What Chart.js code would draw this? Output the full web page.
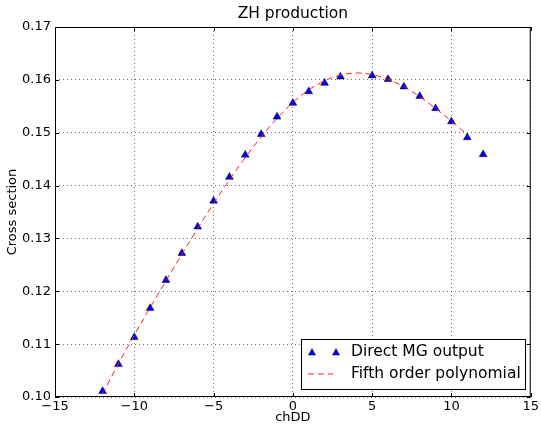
<!DOCTYPE html>
<html>
<head>
<meta charset="utf-8">
<script src="https://cdn.jsdelivr.net/npm/chart.js@4/dist/chart.umd.min.js"></script>
<style>
  html, body { margin: 0; padding: 0; background: #fff; }
  #wrap { width: 541px; height: 425px; }
</style>
</head>
<body>
<div id="wrap"><canvas id="zhChart" width="541" height="425"></canvas></div>
<script>
// values
const mgX = [-12, -11, -10, -9, -8, -7, -6, -5, -4, -3, -2, -1, 0, 1, 2, 3, 5, 6, 7, 8, 9, 10, 11, 12];
const mgY = [0.1011, 0.1062, 0.1113, 0.1168, 0.1221, 0.1272, 0.1322, 0.1371, 0.1416, 0.1458, 0.1497, 0.1530,
             0.1556, 0.1578, 0.1594, 0.1606, 0.1608, 0.1601, 0.1587, 0.1569, 0.1546, 0.1521, 0.1491, 0.1459];

const fitX = [-12, -11, -10, -9, -8, -7, -6, -5, -4, -3, -2, -1, 0, 1, 2, 3, 4, 5, 6, 7, 8, 9, 10, 11];
const fitY = [0.1006, 0.1063, 0.1117, 0.1169, 0.1220, 0.1270, 0.1319, 0.1366, 0.1411, 0.1453, 0.1492, 0.1527,
              0.1557, 0.1581, 0.1598, 0.1609, 0.1613, 0.1610, 0.1601, 0.1587, 0.1568, 0.1546, 0.1522, 0.1496];

const xTicks = [-15, -10, -5, 0, 5, 10, 15];
const yTicks = [0.10, 0.11, 0.12, 0.13, 0.14, 0.15, 0.16, 0.17];

const FONT = 'DejaVu Sans, Liberation Sans, sans-serif';

// frame, inward ticks, title and legend box drawn on top
const framePlugin = {
    id: 'frame',
    afterDraw(chart) {
        const { ctx, chartArea: a, scales } = chart;
        ctx.save();
        ctx.strokeStyle = '#000';
        ctx.lineWidth = 1;
        ctx.strokeRect(a.left + 0.5, a.top + 0.5, a.right - a.left - 1, a.bottom - a.top - 1);
        // inward ticks on all four sides
        ctx.beginPath();
        xTicks.forEach(v => {
            const px = Math.round(scales.x.getPixelForValue(v)) + 0.5;
            ctx.moveTo(px, a.bottom); ctx.lineTo(px, a.bottom - 4);
            ctx.moveTo(px, a.top); ctx.lineTo(px, a.top + 4);
        });
        yTicks.forEach(v => {
            const py = Math.round(scales.y.getPixelForValue(v)) + 0.5;
            ctx.moveTo(a.left, py); ctx.lineTo(a.left + 4, py);
            ctx.moveTo(a.right, py); ctx.lineTo(a.right - 4, py);
        });
        ctx.stroke();

        // title
        ctx.fillStyle = '#000';
        ctx.font = '15.5px ' + FONT;
        ctx.textAlign = 'center';
        ctx.textBaseline = 'middle';
        ctx.fillText('ZH production', (a.left + a.right) / 2, 14);

        // legend
        const bx = 301.5, by = 339.5, bw = 224, bh = 50;
        ctx.fillStyle = '#fff';
        ctx.fillRect(bx, by, bw, bh);
        ctx.strokeRect(bx, by, bw, bh);
        const ds0 = chart.data.datasets[0];
        [312, 336].forEach(mx => {
            ctx.beginPath();
            ctx.moveTo(mx, 348.5); ctx.lineTo(mx + 3.5, 355); ctx.lineTo(mx - 3.5, 355); ctx.closePath();
            ctx.fillStyle = ds0.backgroundColor;
            ctx.fill();
            ctx.lineWidth = 0.5;
            ctx.strokeStyle = '#000';
            ctx.stroke();
        });
        const ds1 = chart.data.datasets[1];
        ctx.beginPath();
        ctx.setLineDash([6, 4]);
        ctx.strokeStyle = ds1.borderColor;
        ctx.lineWidth = 1;
        ctx.moveTo(308, 374); ctx.lineTo(333, 374);
        ctx.stroke();
        ctx.setLineDash([]);
        ctx.fillStyle = '#000';
        ctx.font = '15.5px ' + FONT;
        ctx.textAlign = 'left';
        ctx.fillText(ds0.label, 351, 352);
        ctx.fillText(ds1.label, 351, 374);
        ctx.restore();
    }
};

const ctx = document.getElementById('zhChart').getContext('2d');
const zhChart = new Chart(ctx, {
    type: 'scatter',
    data: {
        datasets: [
            {
                label: 'Direct MG output',
                data: mgX.map((x, i) => ({ x: x, y: mgY[i] })),
                pointStyle: 'triangle',
                pointRadius: 4.5,
                backgroundColor: '#0000ff',
                borderColor: '#000',
                borderWidth: 0.5,
                order: 1
            },
            {
                label: 'Fifth order polynomial',
                type: 'line',
                data: fitX.map((x, i) => ({ x: x, y: fitY[i] })),
                showLine: true,
                borderColor: 'rgba(255, 20, 20, 0.95)',
                borderWidth: 1,
                borderDash: [6, 4],
                pointRadius: 0,
                tension: 0.4,
                fill: false,
                order: 0
            }
        ]
    },
    options: {
        responsive: false,
        animation: false,
        layout: { padding: { top: 27, right: 9, left: 0, bottom: 0 } },
        plugins: {
            legend: { display: false },
            title: { display: false },
            tooltip: { enabled: false }
        },
        scales: {
            x: {
                type: 'linear',
                min: -15,
                max: 15,
                afterFit(scale) { scale.height = 28; },
                afterBuildTicks(scale) { scale.ticks = xTicks.map(v => ({ value: v })); },
                ticks: {
                    color: '#000',
                    padding: 2,
                    font: { family: FONT, size: 13 },
                    maxRotation: 0,
                    callback: v => String(v).replace('-', '\u2212')
                },
                grid: {
                    color: 'rgba(0,0,0,0.55)',
                    lineWidth: 1,
                    drawTicks: false
                },
                border: { display: false, dash: [1, 3] },
                title: {
                    display: true,
                    text: 'chDD',
                    color: '#000',
                    font: { family: FONT, size: 13 },
                    padding: 0
                }
            },
            y: {
                type: 'linear',
                min: 0.10,
                max: 0.17,
                afterFit(scale) { scale.width = 55; },
                afterBuildTicks(scale) { scale.ticks = yTicks.map(v => ({ value: v })); },
                ticks: {
                    color: '#000',
                    padding: 4,
                    font: { family: FONT, size: 13 },
                    callback: v => v.toFixed(2)
                },
                grid: {
                    color: 'rgba(0,0,0,0.55)',
                    lineWidth: 1,
                    drawTicks: false
                },
                border: { display: false, dash: [1, 3] },
                title: {
                    display: true,
                    text: 'Cross section',
                    color: '#000',
                    font: { family: FONT, size: 13 },
                    padding: { top: 5, bottom: 0 }
                }
            }
        }
    },
    plugins: [framePlugin]
});
</script>
</body>
</html>
